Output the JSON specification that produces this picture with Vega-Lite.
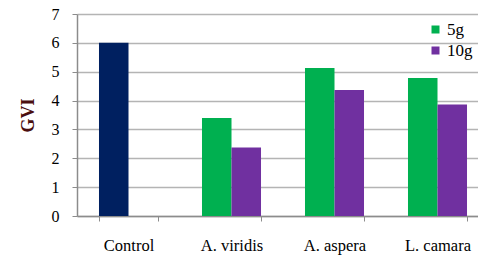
{
  "$schema": "https://vega.github.io/schema/vega-lite/v6.json",
  "autosize": {"type": "none"},
  "padding": {"left": 77, "top": 14, "right": 0, "bottom": 46},
  "width": 412,
  "height": 202,
  "background": "white",
  "data": {"values": [
    {"plant": "Control", "dose": "5g", "series": "Control", "gvi": 6.0},
    {"plant": "A. viridis", "dose": "5g", "series": "5g", "gvi": 3.40},
    {"plant": "A. viridis", "dose": "10g", "series": "10g", "gvi": 2.37},
    {"plant": "A. aspera", "dose": "5g", "series": "5g", "gvi": 5.13},
    {"plant": "A. aspera", "dose": "10g", "series": "10g", "gvi": 4.37},
    {"plant": "L. camara", "dose": "5g", "series": "5g", "gvi": 4.78},
    {"plant": "L. camara", "dose": "10g", "series": "10g", "gvi": 3.86}
  ]},
  "mark": {"type": "bar"},
  "encoding": {
    "x": {
      "field": "plant", "type": "nominal",
      "sort": ["Control", "A. viridis", "A. aspera", "L. camara"],
      "scale": {"paddingInner": 0.427, "paddingOuter": 0.2135},
      "axis": {
        "title": null, "labelAngle": 0, "labelFont": "Liberation Serif", "labelFontSize": 16.5,
        "labelColor": "#000000", "labelPadding": 16, "tickBand": "extent", "tickSize": 5,
        "tickColor": "#8c8c8c", "domainColor": "#8c8c8c", "domainWidth": 1.5, "grid": false
      }
    },
    "xOffset": {"field": "dose", "type": "nominal", "sort": ["5g", "10g"], "scale": {"domain": ["5g", "10g"]}},
    "y": {
      "field": "gvi", "type": "quantitative",
      "scale": {"domain": [0, 7], "nice": false},
      "axis": {
        "title": "GVI", "titleFont": "Liberation Serif", "titleFontSize": 18, "titleFontWeight": "bold",
        "titleColor": "#4a0e0e", "titlePadding": 14,
        "values": [0, 1, 2, 3, 4, 5, 6, 7], "labelFont": "Liberation Serif", "labelFontSize": 16,
        "labelColor": "#000000", "labelPadding": 13, "tickSize": 5, "tickColor": "#8c8c8c",
        "domainColor": "#8c8c8c", "domainWidth": 1.5, "grid": true, "gridColor": "#b4b4b4", "gridWidth": 1.5
      }
    },
    "color": {
      "field": "series", "type": "nominal",
      "scale": {"domain": ["5g", "10g", "Control"], "range": ["#00B050", "#7030A0", "#002060"]},
      "legend": {
        "values": ["5g", "10g"], "title": null, "orient": "none", "legendX": 350, "legendY": 7,
        "symbolType": "square", "symbolSize": 64, "symbolStrokeWidth": 0, "labelFont": "Liberation Serif",
        "labelFontSize": 17, "labelColor": "#000000", "rowPadding": 3, "labelOffset": 3
      }
    }
  },
  "config": {"view": {"stroke": null}}
}
